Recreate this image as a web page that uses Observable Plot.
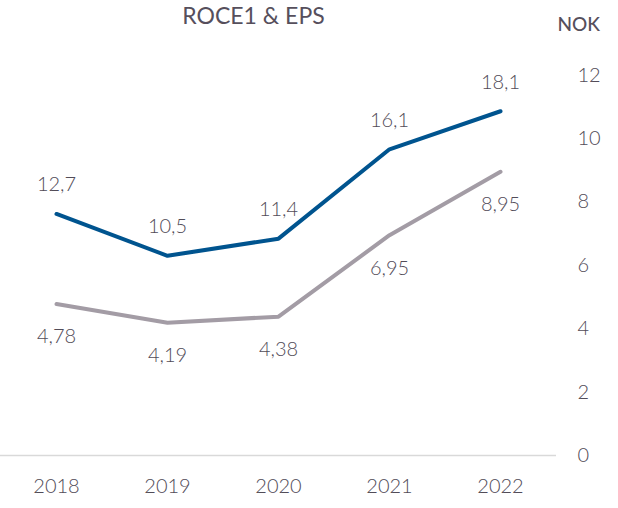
<!DOCTYPE html>
<html>
<head>
<meta charset="utf-8">
<script src="https://cdn.jsdelivr.net/npm/d3@7"></script>
<script src="https://cdn.jsdelivr.net/npm/@observablehq/plot@0.6"></script>
<style>
  html, body { margin: 0; padding: 0; background: #ffffff; }
  svg { display: block; }
</style>
</head>
<body>
<div id="chart"></div>
<script>
const years = ["2018", "2019", "2020", "2021", "2022"];
const roce = [12.7, 10.5, 11.4, 16.1, 18.1];          // ROCE (%), secondary hidden axis 0–20
const eps = [4.78, 4.19, 4.38, 6.95, 8.95];           // EPS (NOK), right axis 0–12
const roceLabels = ["12,7", "10,5", "11,4", "16,1", "18,1"];
const epsLabels = ["4,78", "4,19", "4,38", "6,95", "8,95"];
const yTicks = [0, 2, 4, 6, 8, 10, 12];
const title = "ROCE1 & EPS";
const unit = "NOK";

const roceMax = 20, nokMax = 12;
const roceData = years.map((y, i) => ({year: y, v: roce[i] * nokMax / roceMax, label: roceLabels[i]}));
const epsData = years.map((y, i) => ({year: y, v: eps[i], label: epsLabels[i]}));

const textColor = "#524c58";
const font = "Lato, 'Open Sans', sans-serif";
const numSize = 20;
const numWeight = 300;

const chart = Plot.plot({
  width: 618,
  height: 508,
  marginTop: 74.6,
  marginBottom: 53,
  marginLeft: 0,
  marginRight: 62,
  style: {fontFamily: font, background: "#ffffff", color: textColor},
  x: {type: "point", domain: years, range: [55, 500], padding: 0},
  y: {domain: [0, nokMax]},
  marks: [
    Plot.ruleY([0], {stroke: "#d9d9d9", strokeWidth: 1.5}),
    Plot.axisX({tickSize: 0, tickPadding: 23, fontSize: numSize, fontWeight: numWeight, fill: textColor, label: null}),
    Plot.axisY({anchor: "right", ticks: yTicks, tickSize: 0, tickPadding: 21, textAnchor: "start",
                fontSize: numSize, fontWeight: numWeight, fill: textColor, label: null, tickFormat: d => String(d)}),
    Plot.line(epsData, {x: "year", y: "v", stroke: "#a39ca5", strokeWidth: 4, strokeLinecap: "round", strokeLinejoin: "round"}),
    Plot.line(roceData, {x: "year", y: "v", stroke: "#00548f", strokeWidth: 4, strokeLinecap: "round", strokeLinejoin: "round"}),
    Plot.text(roceData, {x: "year", y: "v", text: "label", dy: -29, lineAnchor: "middle",
                         fontSize: numSize, fontWeight: numWeight, fill: textColor}),
    Plot.text(epsData, {x: "year", y: "v", text: "label", dy: 33, lineAnchor: "middle",
                        fontSize: numSize, fontWeight: numWeight, fill: textColor}),
    Plot.text([title], {frameAnchor: "top-left", dx: 253, dy: -58, textAnchor: "middle", lineAnchor: "middle",
                        fontSize: 23, fill: "#564f5c"}),
    Plot.text([unit], {frameAnchor: "top-right", dx: 1, dy: -50.5, textAnchor: "start", lineAnchor: "middle",
                       fontSize: 19, fontWeight: 500, fill: "#564f5c"})
  ]
});
document.getElementById("chart").appendChild(chart);
</script>
</body>
</html>
